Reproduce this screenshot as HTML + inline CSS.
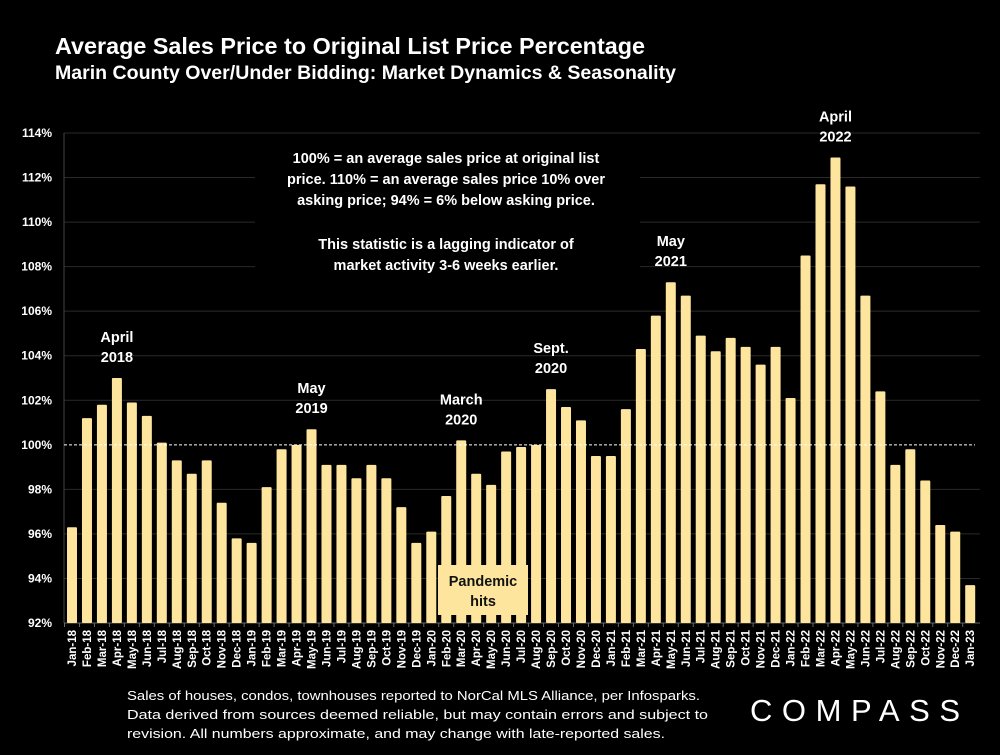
<!DOCTYPE html>
<html><head><meta charset="utf-8"><style>
body{margin:0;background:#000;width:1000px;height:750px;overflow:hidden;font-family:"Liberation Sans",sans-serif;}
</style></head><body>
<svg width="1000" height="750" xmlns="http://www.w3.org/2000/svg">
<rect width="1000" height="750" fill="#000"/>
<text x="55" y="54" fill="#fff" font-size="23" font-weight="bold" textLength="590" lengthAdjust="spacingAndGlyphs">Average Sales Price to Original List Price Percentage</text>
<text x="55" y="79" fill="#fff" font-size="19" font-weight="bold" textLength="621" lengthAdjust="spacingAndGlyphs">Marin County Over/Under Bidding: Market Dynamics &amp; Seasonality</text>
<g id="grid"></g>
<g id="bars"></g>
<g id="xlabels"></g>
<g id="ylabels"></g>
<g font-size="14.5" font-weight="bold" fill="#fff" text-anchor="middle">
<rect x="255" y="145" width="385" height="130" fill="#000"/>
<text x="446" y="163">100% = an average sales price at original list</text>
<text x="446" y="184">price. 110% = an average sales price 10% over</text>
<text x="446" y="205">asking price; 94% = 6% below asking price.</text>
<text x="446" y="249">This statistic is a lagging indicator of</text>
<text x="446" y="270">market activity 3-6 weeks earlier.</text>
</g>
<g id="peaks" font-size="14.5" font-weight="bold" fill="#fff" text-anchor="middle"></g>
<rect x="438" y="565" width="90" height="50" fill="#fde59d"/>
<text x="483" y="586" font-size="14.5" font-weight="bold" fill="#111" text-anchor="middle">Pandemic</text>
<text x="483" y="606" font-size="14.5" font-weight="bold" fill="#111" text-anchor="middle">hits</text>
<g font-size="13" fill="#fff">
<text x="127" y="700" textLength="573" lengthAdjust="spacingAndGlyphs">Sales of houses, condos, townhouses reported to NorCal MLS Alliance, per Infosparks.</text>
<text x="127" y="719" textLength="581" lengthAdjust="spacingAndGlyphs">Data derived from sources deemed reliable, but may contain errors and subject to</text>
<text x="127" y="738" textLength="538" lengthAdjust="spacingAndGlyphs">revision. All numbers approximate, and may change with late-reported sales.</text>
</g>
<text x="750" y="721" font-size="31" fill="#fff" textLength="210" lengthAdjust="spacing">COMPASS</text>
</svg>
<script>
const months=["Jan","Feb","Mar","Apr","May","Jun","Jul","Aug","Sep","Oct","Nov","Dec"];
const values=[96.3,101.2,101.8,103.0,101.9,101.3,100.1,99.3,98.7,99.3,97.4,95.8,
95.6,98.1,99.8,100.0,100.7,99.1,99.1,98.5,99.1,98.5,97.2,95.6,
96.1,97.7,100.2,98.7,98.2,99.7,99.9,100.0,102.5,101.7,101.1,99.5,
99.5,101.6,104.3,105.8,107.3,106.7,104.9,104.2,104.8,104.4,103.6,104.4,
102.1,108.5,111.7,112.9,111.6,106.7,102.4,99.1,99.8,98.4,96.4,96.1,93.7];
const yTicks=[92,94,96,98,100,102,104,106,108,110,112,114];
const peaks=[{i:3,a:"April",b:"2018"},{i:16,a:"May",b:"2019"},{i:26,a:"March",b:"2020"},{i:32,a:"Sept.",b:"2020"},{i:40,a:"May",b:"2021"},{i:51,a:"April",b:"2022"}];
const NS="http://www.w3.org/2000/svg";
const y=v=>623-(v-92)*(490/22);
const x=i=>72+i*14.97;
function mk(t,p,a){const e=document.createElementNS(NS,t);for(const k in a)e.setAttribute(k,a[k]);p.appendChild(e);return e;}
const grid=document.getElementById('grid'),yl=document.getElementById('ylabels');
yTicks.forEach(t=>{
 if(t!==92&&t!==100){const l=mk('line',grid,{x1:64,x2:980,y1:y(t),y2:y(t),stroke:'#2a2a2a','stroke-width':1});
 
 }
 const tx=mk('text',yl,{x:52,y:y(t)+4,fill:'#fff','font-size':12,'font-weight':'bold','text-anchor':'end'});
 tx.textContent=t+'%';
 
 
});
mk('line',grid,{x1:64,x2:64,y1:133,y2:623,stroke:'#444'});
const bars=document.getElementById('bars'),xl=document.getElementById('xlabels');
values.forEach((v,i)=>{
 const r=mk('rect',bars,{x:x(i)-5,y:y(v),width:10,height:623-y(v),fill:'#fde59d',rx:1});
 
 
 const lab=months[i%12]+'-'+(18+Math.floor(i/12));
 const t=mk('text',xl,{transform:`translate(${x(i)+4},630) rotate(-90)`,fill:'#fff','font-size':11.5,'font-weight':'bold','text-anchor':'end'});
 t.textContent=lab;
 
 
 mk('line',xl,{x1:x(i)-7.5,x2:x(i)-7.5,y1:623,y2:627,stroke:'#666'});
});
mk('line',grid,{x1:64,x2:980,y1:623,y2:623,stroke:'#666'});
const ref=mk('line',bars,{x1:64,x2:975,y1:y(100),y2:y(100),stroke:'#fff','stroke-dasharray':'3,2','stroke-width':1});


const pk=document.getElementById('peaks');
peaks.forEach(p=>{
 const top=y(values[p.i])-12;
 const t1=mk('text',pk,{x:x(p.i),y:top-24});t1.textContent=p.a;
 
 
 const t2=mk('text',pk,{x:x(p.i),y:top-4});t2.textContent=p.b;
 
 
});
</script>
</body></html>
